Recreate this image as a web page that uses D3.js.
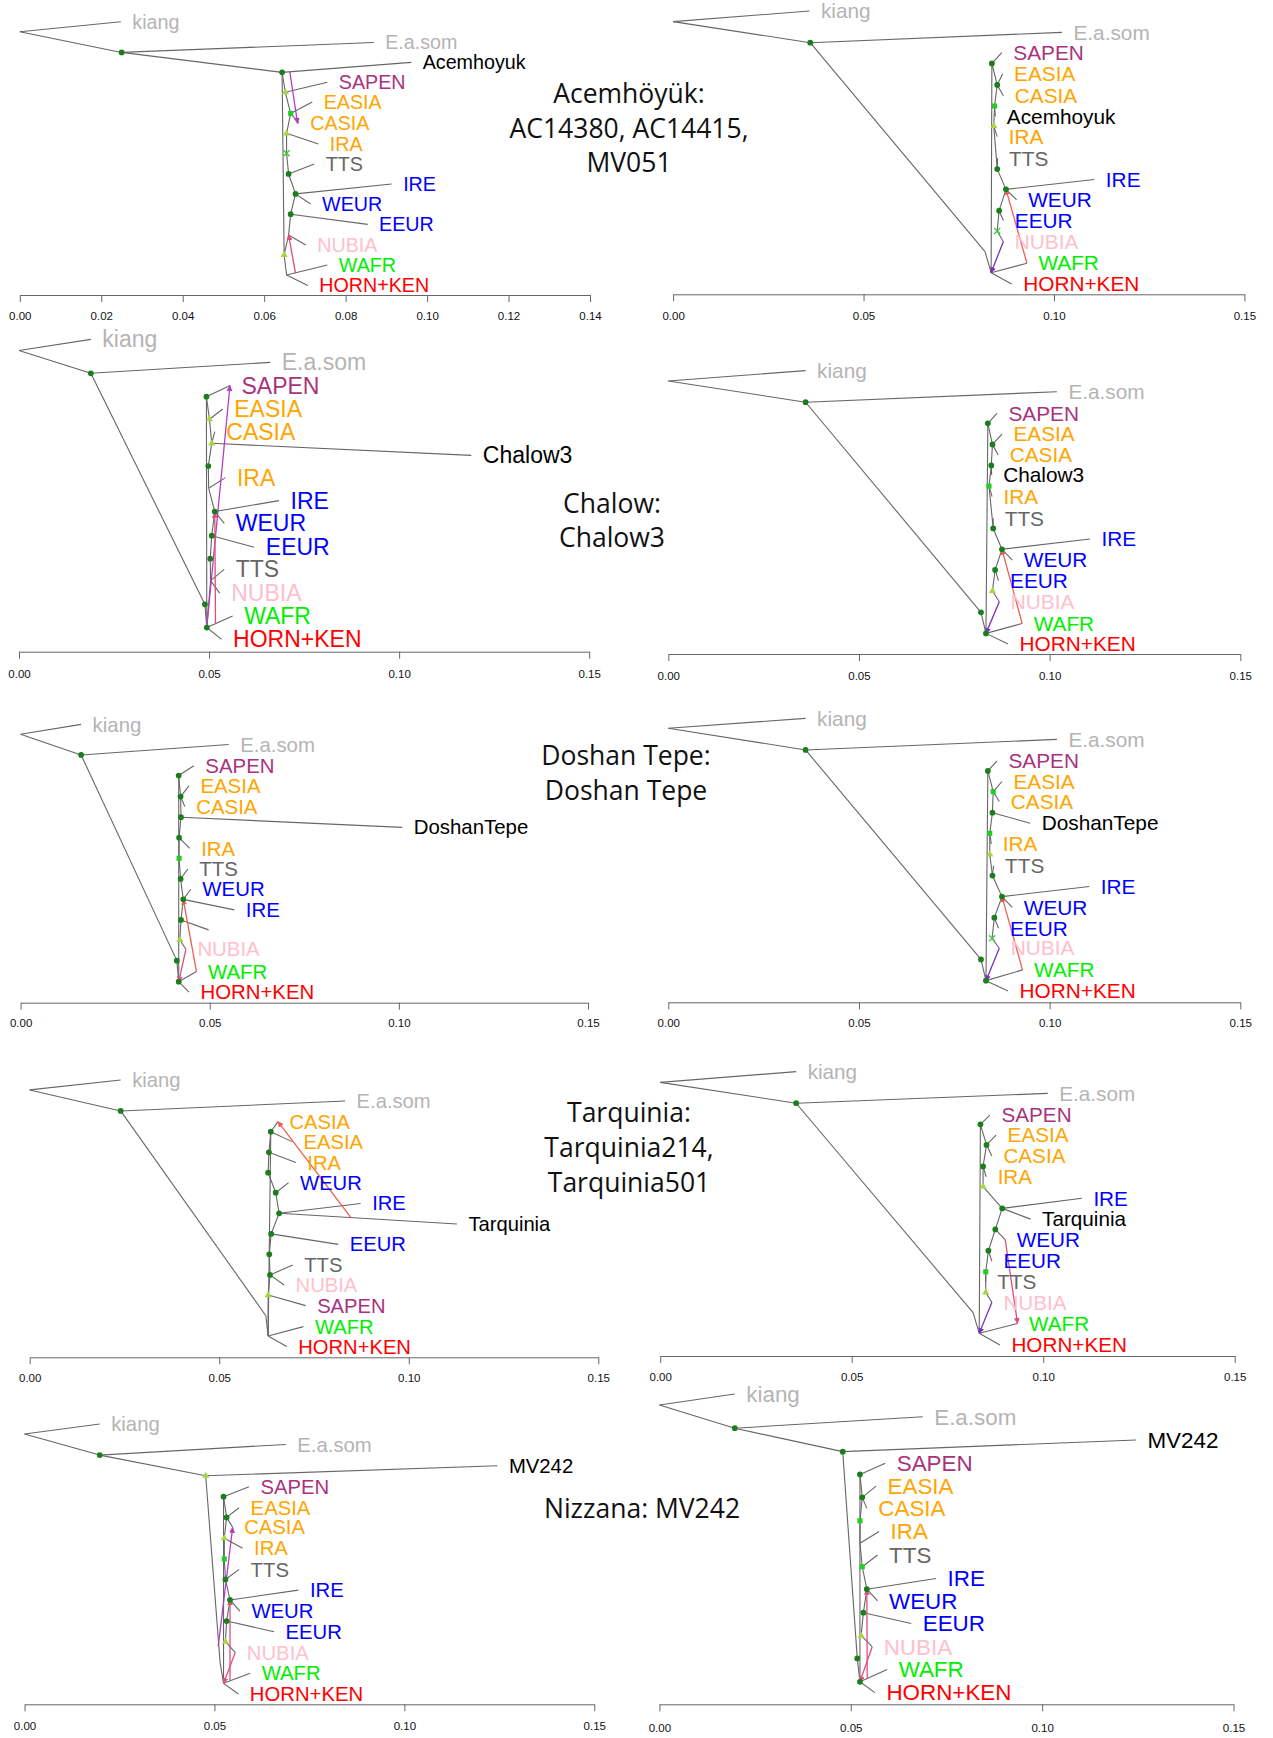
<!DOCTYPE html>
<html><head><meta charset="utf-8">
<script src="https://cdn.jsdelivr.net/npm/d3@7"></script>
<style>body{margin:0;background:#fff}svg{display:block}</style>
</head><body>
<svg id="c" width="1273" height="1738"></svg>
<script>
// ---------- data ----------
const ticks14 = [0, 0.02, 0.04, 0.06, 0.08, 0.10, 0.12, 0.14];
const ticks15 = [0, 0.05, 0.10, 0.15];

const titles = [
  {lines: ["Acemhöyük:", "AC14380, AC14415,", "MV051"]},
  {lines: ["Chalow:", "Chalow3"]},
  {lines: ["Doshan Tepe:", "Doshan Tepe"]},
  {lines: ["Tarquinia:", "Tarquinia214,", "Tarquinia501"]},
  {lines: ["Nizzana: MV242"]}
];

const popColor = {
  "kiang": "#b4b4b4", "E.a.som": "#b4b4b4", "SAPEN": "#a8337c",
  "EASIA": "#ffa500", "CASIA": "#ffa500", "IRA": "#ffa500", "TTS": "#666666",
  "IRE": "#0000ff", "WEUR": "#0000ff", "EEUR": "#0000ff",
  "NUBIA": "#ffc0cb", "WAFR": "#00ee00", "HORN+KEN": "#ff0000"
};
const migColor = {magenta: "#b23ec4", purple: "#7a30bf", rose: "#dc4f7c", red: "#ec5f55"};

// nodes: [drift, row, marker]; links: [from, to]; tips: [label, drift, row, parent]; migr: [x1, r1, x2, r2, colour]
const p1Nodes = [[0,0.54,""],[0.0250,1.56,"dot"],[0.0644,2.54,"dot"],[0.0652,3.52,"tri"],[0.0665,4.56,"sq"],[0.0655,5.54,"tri"],[0.0655,6.52,"x"],[0.0660,7.54,"dot"],[0.0677,8.52,"dot"],[0.0665,9.52,"dot"],[0.0660,10.54,""],[0.0649,11.52,"tri"],[0.0655,12.51,""]];
const p1Links = [[0,1],[1,2],[2,11],[11,12],[2,3],[3,4],[4,5],[5,6],[6,7],[7,8],[8,9],[9,10],[10,11]];
const p1Tips = [["kiang",0.0248,0.05,0],["E.a.som",0.0869,1.07,1],["Acemhoyuk",0.0961,2.05,2],["SAPEN",0.0755,3.03,3],["EASIA",0.0718,4.0,4],["CASIA",0.0685,5.04,4],["IRA",0.0733,6.07,5],["TTS",0.0723,7.05,7],["IRE",0.0913,8.03,8],["WEUR",0.0714,9.02,8],["EEUR",0.0854,10.02,9],["NUBIA",0.0702,11.03,10],["WAFR",0.0755,12.02,12],["HORN+KEN",0.0707,13.03,12]];
const p1Migr = [[0.0663,2.51,0.0682,5.05,"magenta"],[0.0677,12.43,0.0660,10.54,"rose"]];

const p2Nodes = [[0,0.55,""],[0.0360,1.55,"dot"],[0.0819,11.45,""],[0.0835,12.45,""],[0.0837,2.53,"dot"],[0.0851,3.55,"dot"],[0.0844,4.55,"sq"],[0.0842,5.50,"tri"],[0.0851,7.54,"dot"],[0.0874,8.50,"dot"],[0.0856,9.51,"dot"],[0.0851,10.47,"x"]];
const p2Links = [[0,1],[1,2],[2,3],[3,4],[4,5],[5,6],[6,7],[7,8],[8,9],[9,10],[10,11]];
const p2Tips = [["kiang",0.0358,0.05,0],["E.a.som",0.1021,1.06,1],["SAPEN",0.0863,2.02,4],["EASIA",0.0865,3.03,5],["CASIA",0.0867,4.06,5],["Acemhoyuk",0.0846,5.05,6],["IRA",0.0851,6.0,7],["TTS",0.0852,7.03,8],["IRE",0.1106,8.03,9],["WEUR",0.0902,9.0,9],["EEUR",0.0867,9.98,10],["NUBIA",0.0867,10.98,11],["WAFR",0.0929,12.0,3],["HORN+KEN",0.0889,12.99,3]];
const p2Migr = [[0.0929,12.0,0.0874,8.5,"red"],[0.0867,10.98,0.0835,12.45,"purple"]];

const p3Nodes = [[0,0.57,""],[0.0189,1.55,"dot"],[0.0489,11.51,"dot"],[0.0494,12.51,"dot"],[0.0493,2.56,"dot"],[0.0501,3.53,"tri"],[0.0507,4.57,"tri"],[0.0498,5.55,"dot"],[0.0499,6.51,""],[0.0515,7.51,"dot"],[0.0507,8.55,"dot"],[0.0503,9.54,"dot"],[0.0504,10.49,""]];
const p3Links = [[0,1],[1,2],[2,3],[3,4],[4,5],[5,6],[6,7],[7,8],[8,9],[9,10],[10,11],[11,12],[12,3]];
const p3Tips = [["kiang",0.0189,0.09,0],["E.a.som",0.0661,1.08,1],["SAPEN",0.0555,2.08,4],["EASIA",0.0536,3.09,5],["CASIA",0.0515,4.07,6],["Chalow3",0.1190,5.09,6],["IRA",0.0543,6.05,8],["IRE",0.0684,7.04,9],["WEUR",0.0540,8.02,9],["EEUR",0.0619,9.05,10],["TTS",0.0540,10.0,12],["NUBIA",0.0528,11.03,12],["WAFR",0.0562,12.01,3],["HORN+KEN",0.0533,13.02,3]];
const p3Migr = [[0.0494,12.51,0.0555,2.08,"magenta"],[0.0517,12.37,0.0515,7.55,"rose"]];

const p4Nodes = [[0,0.52,""],[0.0360,1.53,"dot"],[0.0820,11.5,"dot"],[0.0833,12.5,"dot"],[0.0838,2.53,"dot"],[0.0850,3.53,"dot"],[0.0847,4.53,"dot"],[0.0841,5.51,"sq"],[0.0852,7.52,"dot"],[0.0875,8.51,"dot"],[0.0857,9.49,"dot"],[0.0850,10.49,"tri"]];
const p4Links = [[0,1],[1,2],[2,3],[3,4],[4,5],[5,6],[6,7],[7,8],[8,9],[9,10],[10,11]];
const p4Tips = [["kiang",0.0360,0.03,0],["E.a.som",0.1019,1.03,1],["SAPEN",0.0862,2.06,4],["EASIA",0.0875,3.04,5],["CASIA",0.0865,4.03,5],["Chalow3",0.0848,4.98,6],["IRA",0.0849,6.01,7],["TTS",0.0852,7.04,8],["IRE",0.1106,8.02,9],["WEUR",0.0902,9.02,9],["EEUR",0.0866,10.0,10],["NUBIA",0.0868,11.0,11],["WAFR",0.0928,12.03,3],["HORN+KEN",0.0891,13.0,3]];
const p4Migr = [[0.0928,12.03,0.0875,8.51,"red"],[0.0868,11.0,0.0833,12.5,"purple"]];

const p5Nodes = [[0,0.5,""],[0.0160,1.5,"dot"],[0.0413,11.47,"dot"],[0.0418,12.49,"dot"],[0.0418,2.5,"dot"],[0.0423,3.52,"dot"],[0.0424,4.52,"dot"],[0.0419,5.51,"dot"],[0.0419,6.51,"sq"],[0.0423,7.51,"dot"],[0.0430,8.5,"dot"],[0.0424,9.5,"dot"],[0.0421,10.47,"tri"]];
const p5Links = [[0,1],[1,2],[2,3],[3,4],[4,5],[5,6],[6,7],[7,8],[8,9],[9,10],[10,11],[11,12]];
const p5Tips = [["kiang",0.0160,0.02,0],["E.a.som",0.0550,0.99,1],["SAPEN",0.0458,2.02,4],["EASIA",0.0445,3.0,5],["CASIA",0.0434,4.0,5],["DoshanTepe",0.1009,5.01,6],["IRA",0.0447,6.03,7],["TTS",0.0442,7.03,9],["WEUR",0.0450,8.01,10],["IRE",0.0565,9.01,10],["",0.0497,9.98,11],["NUBIA",0.0437,10.92,12],["WAFR",0.0465,12.0,3],["HORN+KEN",0.0445,13.0,3]];
const p5Migr = [[0.0465,12.0,0.0430,8.5,"red"],[0.0437,10.92,0.0418,12.49,"rose"]];

const p6Nodes = [[0,0.52,""],[0.0360,1.55,"dot"],[0.0820,11.5,"dot"],[0.0833,12.51,"dot"],[0.0838,2.55,"dot"],[0.0852,3.53,"sq"],[0.0850,4.53,"dot"],[0.0843,5.51,"sq"],[0.0843,6.51,"tri"],[0.0850,7.52,"dot"],[0.0875,8.52,"dot"],[0.0855,9.52,"dot"],[0.0849,10.5,"x"]];
const p6Links = [[0,1],[1,2],[2,3],[3,4],[4,5],[5,6],[6,7],[7,8],[8,9],[9,10],[10,11],[11,12]];
const p6Tips = [["kiang",0.0360,0.05,0],["E.a.som",0.1019,1.05,1],["SAPEN",0.0862,2.07,4],["EASIA",0.0875,3.05,5],["CASIA",0.0868,4.0,5],["DoshanTepe",0.0949,5.03,6],["IRA",0.0847,6.02,7],["TTS",0.0853,7.05,9],["IRE",0.1104,8.04,10],["WEUR",0.0902,9.03,10],["EEUR",0.0866,10.02,11],["NUBIA",0.0868,10.97,12],["WAFR",0.0929,12.0,3],["HORN+KEN",0.0891,13.0,3]];
const p6Migr = [[0.0929,12.0,0.0875,8.52,"red"],[0.0868,10.97,0.0833,12.51,"purple"]];

const p7Nodes = [[0,0.53,""],[0.0240,1.55,"dot"],[0.0623,11.49,""],[0.0629,12.48,""],[0.0636,2.56,"dot"],[0.0631,3.56,"dot"],[0.0629,4.55,"dot"],[0.0649,5.52,"dot"],[0.0658,6.52,"dot"],[0.0637,7.52,"dot"],[0.0632,8.51,"dot"],[0.0634,9.51,"dot"],[0.0629,10.49,"tri"]];
const p7Links = [[0,1],[1,2],[2,3],[3,4],[4,5],[5,6],[6,7],[7,8],[8,9],[9,10],[10,11],[11,12],[12,3]];
const p7Tips = [["kiang",0.0240,0.05,0],["E.a.som",0.0832,1.07,1],["CASIA",0.0655,2.07,4],["EASIA",0.0692,3.04,4],["IRA",0.0702,4.05,5],["WEUR",0.0683,5.03,7],["IRE",0.0873,6.04,8],["Tarquinia",0.1127,7.04,8],["EEUR",0.0814,8.03,9],["TTS",0.0694,9.03,11],["NUBIA",0.0671,10.0,11],["SAPEN",0.0728,11.0,12],["WAFR",0.0722,12.02,3],["HORN+KEN",0.0678,12.99,3]];
const p7Migr = [[0.0847,6.72,0.0655,2.07,"red"]];

const p8Nodes = [[0,0.54,""],[0.0355,1.53,"dot"],[0.0817,11.47,""],[0.0833,12.45,""],[0.0836,2.53,"dot"],[0.0852,3.51,"dot"],[0.0843,4.53,"dot"],[0.0843,5.49,"tri"],[0.0893,6.52,"dot"],[0.0875,7.52,"dot"],[0.0857,8.53,"dot"],[0.0850,9.53,"sq"],[0.0850,10.51,"tri"]];
const p8Links = [[0,1],[1,2],[2,3],[3,4],[4,5],[5,6],[6,7],[7,8],[8,9],[9,10],[10,11],[11,12]];
const p8Tips = [["kiang",0.0355,0.03,0],["E.a.som",0.1012,1.06,1],["SAPEN",0.0861,2.09,4],["EASIA",0.0877,3.04,5],["CASIA",0.0866,4.03,5],["IRA",0.0851,5.02,6],["IRE",0.1101,6.04,8],["Tarquinia",0.0967,7.03,8],["WEUR",0.0901,8.02,9],["EEUR",0.0866,9.02,10],["TTS",0.0850,10.0,11],["NUBIA",0.0866,10.98,12],["WAFR",0.0933,11.98,3],["HORN+KEN",0.0887,13.0,3]];
const p8Migr = [[0.0901,8.02,0.0933,11.98,"rose"],[0.0866,10.98,0.0833,12.45,"purple"]];

const p9Nodes = [[0,0.54,""],[0.0198,1.55,"dot"],[0.0477,2.54,"tri"],[0.0515,11.48,""],[0.0524,12.47,""],[0.0524,3.54,"dot"],[0.0532,4.53,"dot"],[0.0526,5.53,"tri"],[0.0526,6.52,"sq"],[0.0529,7.5,"dot"],[0.0541,8.48,"dot"],[0.0532,9.49,"dot"],[0.0529,10.48,"tri"]];
const p9Links = [[0,1],[1,2],[2,3],[3,4],[4,5],[5,6],[6,7],[7,8],[8,9],[9,10],[10,11],[11,12]];
const p9Tips = [["kiang",0.0198,0.06,0],["E.a.som",0.0688,1.04,1],["MV242",0.1245,2.06,2],["SAPEN",0.0591,3.06,5],["EASIA",0.0565,4.07,6],["CASIA",0.0548,5.0,6],["IRA",0.0574,6.01,7],["TTS",0.0565,7.02,9],["IRE",0.0721,8.01,10],["WEUR",0.0567,9.01,10],["EEUR",0.0657,10.0,11],["NUBIA",0.0555,11.0,12],["WAFR",0.0594,11.99,4],["HORN+KEN",0.0563,12.98,4]];
const p9Migr = [[0.0510,10.69,0.0548,5.01,"magenta"],[0.0541,12.31,0.0541,8.48,"rose"],[0.0555,11.0,0.0524,12.47,"rose"]];

const p10Nodes = [[0,0.48,""],[0.0197,1.49,"dot"],[0.0479,2.51,"dot"],[0.0517,11.51,"dot"],[0.0524,12.53,"dot"],[0.0524,3.5,"dot"],[0.0530,4.5,"dot"],[0.0524,5.52,"sq"],[0.0524,6.5,""],[0.0530,7.52,"sq"],[0.0542,8.5,"dot"],[0.0533,9.52,"dot"],[0.0527,10.52,"tri"]];
const p10Links = [[0,1],[1,2],[2,3],[3,4],[4,5],[5,6],[6,7],[7,8],[8,9],[9,10],[10,11],[11,12]];
const p10Tips = [["kiang",0.0197,0.0,0],["E.a.som",0.0688,0.99,1],["MV242",0.1245,2.0,2],["SAPEN",0.0590,3.02,5],["EASIA",0.0566,4.01,6],["CASIA",0.0542,4.98,6],["IRA",0.0574,5.99,8],["TTS",0.0570,7.01,9],["IRE",0.0723,8.03,10],["WEUR",0.0570,9.01,10],["EEUR",0.0658,9.99,11],["NUBIA",0.0556,11.0,12],["WAFR",0.0595,11.99,4],["HORN+KEN",0.0563,13.0,4]];
const p10Migr = [[0.0543,12.4,0.0542,8.5,"rose"],[0.0556,11.0,0.0524,12.53,"rose"]];

// ---------- layout ----------
const layout = [
  {max:0.14, x0:19.8,  x1:590,    axisY:295,    row0:20.7,   rs:20.33, tickY:316,    font:19.7},
  {max:0.15, x0:673.1, x1:1244.4, axisY:294.3,  row0:10,     rs:21.1,  tickY:316,    font:20.8},
  {max:0.15, x0:19,    x1:589.2,  axisY:651.7,  row0:337.3,  rs:23.2,  tickY:674.3,  font:23.0},
  {max:0.15, x0:668.3, x1:1240.3, axisY:654,    row0:370,    rs:21.07, tickY:675.7,  font:20.8},
  {max:0.15, x0:20.6,  x1:588,    axisY:1002.7, row0:724,    rs:20.63, tickY:1023.3, font:20.4},
  {max:0.15, x0:668.3, x1:1240.3, axisY:1002.3, row0:717.3,  rs:21.05, tickY:1023.3, font:20.8},
  {max:0.15, x0:29.7,  x1:598.3,  axisY:1357.3, row0:1079,   rs:20.6,  tickY:1377.7, font:20.2},
  {max:0.15, x0:660.2, x1:1234.7, axisY:1356,   row0:1071,   rs:21.07, tickY:1376.7, font:20.7},
  {max:0.15, x0:24.5,  x1:594.3,  axisY:1704.3, row0:1422.7, rs:20.9,  tickY:1726,   font:20.3},
  {max:0.15, x0:659.4, x1:1233.5, axisY:1704.3, row0:1394,   rs:22.97, tickY:1728.3, font:22.4}
];
const titleLayout = [
  {cx:629, ys:[93,128,162]}, {cx:612, ys:[503,537]}, {cx:626, ys:[755,790]},
  {cx:629, ys:[1112,1147,1182]}, {cx:642, ys:[1508]}
];

const panels = [
  [p1Nodes,p1Links,p1Tips,p1Migr],[p2Nodes,p2Links,p2Tips,p2Migr],
  [p3Nodes,p3Links,p3Tips,p3Migr],[p4Nodes,p4Links,p4Tips,p4Migr],
  [p5Nodes,p5Links,p5Tips,p5Migr],[p6Nodes,p6Links,p6Tips,p6Migr],
  [p7Nodes,p7Links,p7Tips,p7Migr],[p8Nodes,p8Links,p8Tips,p8Migr],
  [p9Nodes,p9Links,p9Tips,p9Migr],[p10Nodes,p10Links,p10Tips,p10Migr]
];

// ---------- drawing ----------
const svg = d3.select("#c");
const defs = svg.append("defs");
Object.entries(migColor).forEach(([k, c]) => {
  defs.append("marker").attr("id", "ah-" + k)
    .attr("viewBox", "0 0 10 10").attr("refX", 9).attr("refY", 5)
    .attr("markerWidth", 6).attr("markerHeight", 6).attr("markerUnits", "userSpaceOnUse")
    .attr("orient", "auto")
    .append("path").attr("d", "M0,0L10,5L0,10Z").attr("fill", c);
});

const LABEL_FONT = "'Liberation Sans', Arial, Helvetica, sans-serif";
const treeStroke = "#666";
const markerStyle = {
  dot: {type: d3.symbolCircle, size: 26, fill: "#1c7d1c"},
  sq:  {type: d3.symbolSquare, size: 26, fill: "#22cc22"},
  tri: {type: d3.symbolTriangle, size: 22, fill: "#a6d646"},
  x:   {type: d3.symbolTimes, size: 26, stroke: "#33cc33"}
};

panels.forEach((p, i) => {
  const [nodes, links, tips, migr] = p;
  const L = layout[i];
  const x = d3.scaleLinear().domain([0, L.max]).range([L.x0, L.x1]);
  const y = d3.scaleLinear().domain([0, 13]).range([L.row0, L.row0 + 13 * L.rs]);
  const g = svg.append("g");

  // axis
  const axis = d3.axisBottom(x)
    .tickValues(L.max === 0.14 ? ticks14 : ticks15)
    .tickFormat(d3.format(".2f"))
    .tickSize(7).tickSizeOuter(0)
    .tickPadding(L.tickY - L.axisY - 7 - 4);
  const ga = g.append("g").attr("transform", `translate(0,${L.axisY})`).call(axis);
  ga.select(".domain").attr("stroke", "#666");
  ga.selectAll(".tick line").attr("stroke", "#666");
  ga.selectAll(".tick text").attr("font-family", LABEL_FONT).attr("font-size", 11.5).attr("fill", "#111");

  // internal links
  g.append("g").selectAll("line").data(links).join("line")
    .attr("x1", d => x(nodes[d[0]][0])).attr("y1", d => y(nodes[d[0]][1]))
    .attr("x2", d => x(nodes[d[1]][0])).attr("y2", d => y(nodes[d[1]][1]))
    .attr("stroke", treeStroke).attr("stroke-width", 1.1);

  // tip edges
  g.append("g").selectAll("line").data(tips).join("line")
    .attr("x1", d => x(nodes[d[3]][0])).attr("y1", d => y(nodes[d[3]][1]))
    .attr("x2", d => x(d[1])).attr("y2", d => y(d[2]))
    .attr("stroke", treeStroke).attr("stroke-width", 1.1);

  // migration edges
  g.append("g").selectAll("line").data(migr).join("line")
    .attr("x1", d => x(d[0])).attr("y1", d => y(d[1]))
    .attr("x2", d => x(d[2])).attr("y2", d => y(d[3]))
    .attr("stroke", d => migColor[d[4]]).attr("stroke-width", 1.3)
    .attr("marker-end", d => `url(#ah-${d[4]})`);

  // node markers
  g.append("g").selectAll("path").data(nodes.filter(n => n[2])).join("path")
    .attr("transform", d => `translate(${x(d[0])},${y(d[1])})`)
    .attr("d", d => d3.symbol().type(markerStyle[d[2]].type).size(markerStyle[d[2]].size)())
    .attr("fill", d => markerStyle[d[2]].fill || "none")
    .attr("stroke", d => markerStyle[d[2]].stroke || "none")
    .attr("stroke-width", 1.3);

  // labels
  g.append("g").selectAll("text").data(tips.filter(t => t[0])).join("text")
    .attr("x", d => x(d[1]) + 11.5).attr("y", d => y(d[2]))
    .attr("dy", "0.35em")
    .attr("font-family", LABEL_FONT).attr("font-size", L.font)
    .attr("fill", d => popColor[d[0]] || "#000")
    .text(d => d[0]);
});

// titles
titles.forEach((t, i) => {
  const T = titleLayout[i];
  t.lines.forEach((line, j) => {
    svg.append("text").attr("x", T.cx).attr("y", T.ys[j]).attr("dy", "0.36em")
      .attr("text-anchor", "middle")
      .attr("font-family", "'Open Sans', 'Noto Sans', sans-serif")
      .attr("font-size", 26.5).attr("fill", "#111")
      .text(line);
  });
});
</script>
</body></html>
